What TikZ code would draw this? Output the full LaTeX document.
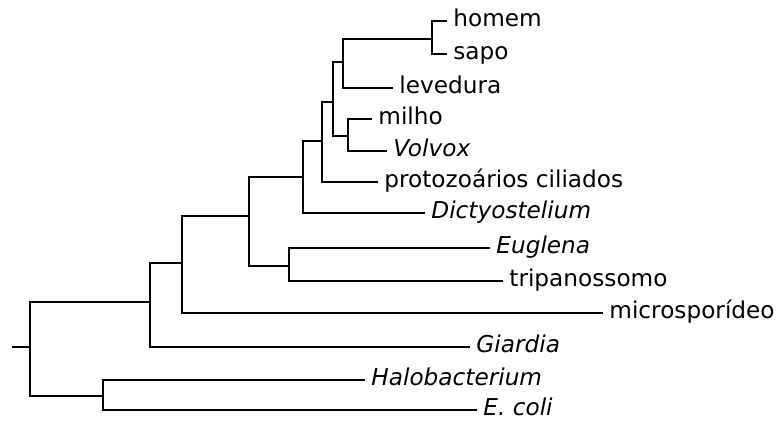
\documentclass[tikz,border=0pt]{standalone}
\usepackage{fontspec}
\setmainfont{DejaVu Sans}
\usepackage{tikz}

\tikzset{
  branch/.style={line width=1pt},
  leaf/.style={anchor=west,inner xsep=3pt,inner ysep=0pt,
    text height=8pt,text depth=2pt,font=\fontsize{11.6}{13}\selectfont},
  sp/.style={leaf,font=\fontsize{11.6}{13}\selectfont\itshape}
}

\begin{document}
\begin{tikzpicture}[x=0.5pt,y=-0.5pt]
  \useasboundingbox (0,0) rectangle (781,421);
  % inner branch points
  \coordinate (stub) at (12,347);
  \coordinate (root) at (30,347);
  \coordinate (euk) at (150,302);
  \coordinate (prok) at (103,396);
  \coordinate (mito) at (182,263);
  \coordinate (crown) at (249,216);
  \coordinate (kineto) at (289,266);
  \coordinate (dicty) at (303,177);
  \coordinate (cilia) at (322,141);
  \coordinate (plant) at (333,102);
  \coordinate (opist) at (343,62);
  \coordinate (vert) at (432,39);
  \coordinate (green) at (348,136);
  % leaves
  \node[leaf] (homem) at (447,21) {homem};
  \node[leaf] (sapo) at (447,54) {sapo};
  \node[leaf] (levedura) at (393,88) {levedura};
  \node[leaf] (milho) at (372,119) {milho};
  \node[sp] (volvox) at (387,151) {Volvox};
  \node[leaf] (ciliados) at (378,182) {protozoários ciliados};
  \node[sp] (dictyo) at (425,213) {Dictyostelium};
  \node[sp] (euglena) at (490,248) {Euglena};
  \node[leaf] (tripa) at (503,281) {tripanossomo};
  \node[leaf] (micro) at (603,313) {microsporídeo};
  \node[sp] (giardia) at (470,347) {Giardia};
  \node[sp] (halo) at (365,380) {Halobacterium};
  \node[sp] (ecoli) at (477,410) {E. coli};
  % branches
  \draw[branch] (stub) -- (root);
  \draw[branch] (root) |- (euk);
  \draw[branch] (root) |- (prok);
  \draw[branch] (prok) |- (halo.west);
  \draw[branch] (prok) |- (ecoli.west);
  \draw[branch] (euk) |- (mito);
  \draw[branch] (euk) |- (giardia.west);
  \draw[branch] (mito) |- (crown);
  \draw[branch] (mito) |- (micro.west);
  \draw[branch] (crown) |- (dicty);
  \draw[branch] (crown) |- (kineto);
  \draw[branch] (kineto) |- (euglena.west);
  \draw[branch] (kineto) |- (tripa.west);
  \draw[branch] (dicty) |- (cilia);
  \draw[branch] (dicty) |- (dictyo.west);
  \draw[branch] (cilia) |- (plant);
  \draw[branch] (cilia) |- (ciliados.west);
  \draw[branch] (plant) |- (opist);
  \draw[branch] (plant) |- (green);
  \draw[branch] (opist) |- (vert);
  \draw[branch] (opist) |- (levedura.west);
  \draw[branch] (vert) |- (homem.west);
  \draw[branch] (vert) |- (sapo.west);
  \draw[branch] (green) |- (milho.west);
  \draw[branch] (green) |- (volvox.west);
\end{tikzpicture}
\end{document}
